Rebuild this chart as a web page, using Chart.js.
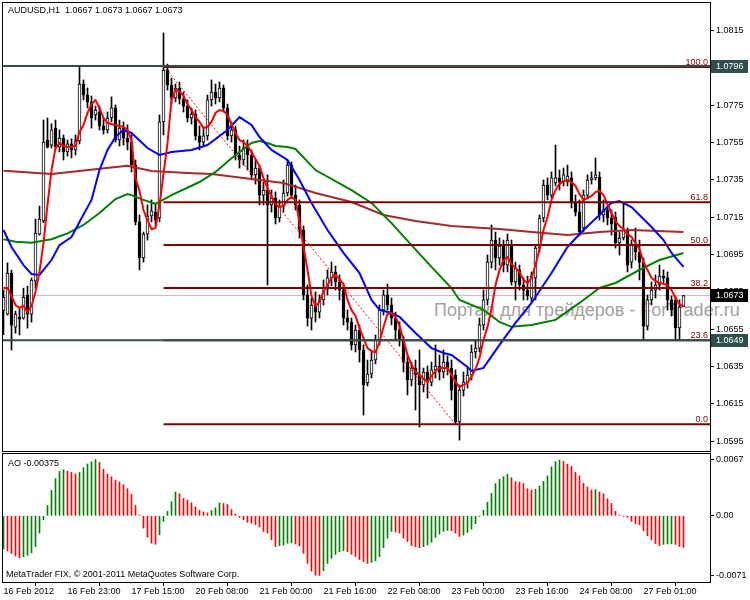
<!DOCTYPE html>
<html>
<head>
<meta charset="utf-8">
<script src="https://cdn.jsdelivr.net/npm/chart.js@4.4.1/dist/chart.umd.min.js"></script>
<style>
  body { margin: 0; background: #fff; width: 750px; height: 600px; overflow: hidden; position: relative;
         font-family: "Liberation Sans", Arial, sans-serif; }
  canvas { position: absolute; left: 0; }
  #main { top: 0; }
  #ao { top: 452px; }
  .txt { position: absolute; font-size: 9px; line-height: 11px; color: #000; white-space: pre; }
  #mark { position: absolute; left: 434px; top: 300px; font-size: 18px; line-height: 20px; color: #a8a0a0; white-space: pre; }
</style>
</head>
<body>
<div id="mark">Портал для трейдеров - ForTrader.ru</div>
<canvas id="main" width="750" height="452"></canvas>
<canvas id="ao" width="750" height="148"></canvas>
<div class="txt" style="left:8px;top:5px">AUDUSD,H1  1.0667 1.0673 1.0667 1.0673</div>
<div class="txt" style="left:8px;top:458px">AO -0.00375</div>
<div class="txt" style="left:6px;top:569px">MetaTrader FIX, © 2001-2011 MetaQuotes Software Corp.</div>
<script>
// H1 bars, index 0 = 16 Feb 2012 07:00
const candleOpen = [1.0665, 1.0663, 1.0685, 1.0656, 1.06614, 1.06608, 1.06732, 1.0663, 1.06807, 1.07059,
  1.07129, 1.07563, 1.07536, 1.07627, 1.07526, 1.07574, 1.07499, 1.07542, 1.0751, 1.07558,
  1.07863, 1.07804, 1.07767, 1.07697, 1.07713, 1.07638, 1.07617, 1.07681, 1.07735, 1.07563,
  1.07627, 1.07574, 1.07552, 1.07429, 1.07124, 1.06931, 1.07059, 1.07156, 1.07177, 1.07145,
  1.0766, 1.07938, 1.07858, 1.07788, 1.07842, 1.07783, 1.07745, 1.07681, 1.07702, 1.07585,
  1.07552, 1.07585, 1.07778, 1.0782, 1.07788, 1.07842, 1.07735, 1.07585, 1.07617, 1.07483,
  1.07456, 1.0752, 1.07483, 1.07376, 1.07413, 1.07268, 1.07295, 1.07215, 1.07252, 1.07145,
  1.07209, 1.07279, 1.07429, 1.07268, 1.07215, 1.07081, 1.06733, 1.06609, 1.06679, 1.06641,
  1.06706, 1.0677, 1.06824, 1.06856, 1.06802, 1.06759, 1.06609, 1.06588, 1.06465, 1.06545,
  1.06438, 1.06261, 1.06309, 1.06384, 1.06491, 1.06652, 1.06733, 1.06679, 1.06609, 1.06545,
  1.06491, 1.06373, 1.06277, 1.06341, 1.06304, 1.0625, 1.0632, 1.06266, 1.06331, 1.06352,
  1.0632, 1.06373, 1.06341, 1.06304, 1.06052, 1.06223, 1.06266, 1.06304, 1.06427, 1.06448,
  1.06572, 1.06706, 1.06909, 1.07027, 1.06931, 1.06995, 1.06893, 1.06995, 1.06802, 1.06867,
  1.06786, 1.06759, 1.06716, 1.06824, 1.06984, 1.07145, 1.07322, 1.07268, 1.07333, 1.0736,
  1.07338, 1.07338, 1.0736, 1.07226, 1.07177, 1.07092, 1.07268, 1.07349, 1.0736, 1.07365,
  1.07161, 1.07188, 1.07145, 1.0715, 1.07011, 1.07038, 1.07081, 1.06909, 1.07001, 1.06963,
  1.06909, 1.06566, 1.06706, 1.06759, 1.06786, 1.06834, 1.06824, 1.06706, 1.06706, 1.06556, 1.0667];
const candleHigh = [1.0676, 1.06905, 1.06866, 1.06646, 1.06657, 1.06769, 1.0678, 1.06823, 1.07139, 1.07209,
  1.0767, 1.07681, 1.0765, 1.0767, 1.07617, 1.0759, 1.07563, 1.07569, 1.0759, 1.0796,
  1.07885, 1.07842, 1.07799, 1.07745, 1.07745, 1.07681, 1.07713, 1.07794, 1.07751, 1.0767,
  1.0766, 1.07644, 1.0759, 1.07456, 1.07161, 1.0707, 1.07215, 1.07242, 1.07226, 1.07697,
  1.08137, 1.0797, 1.07895, 1.07863, 1.07874, 1.0782, 1.07778, 1.07735, 1.07724, 1.07638,
  1.07627, 1.07804, 1.07885, 1.07863, 1.07874, 1.07858, 1.07756, 1.0766, 1.07638, 1.07531,
  1.07563, 1.07563, 1.0751, 1.07456, 1.07429, 1.07338, 1.07376, 1.07295, 1.07285, 1.07242,
  1.07349, 1.07456, 1.07445, 1.07322, 1.07242, 1.07102, 1.06786, 1.06716, 1.06749, 1.06733,
  1.06813, 1.06867, 1.06909, 1.06888, 1.0684, 1.06786, 1.06652, 1.06609, 1.06572, 1.06572,
  1.06465, 1.06384, 1.06427, 1.06518, 1.06679, 1.06759, 1.06791, 1.06716, 1.06641, 1.06588,
  1.06513, 1.06411, 1.06373, 1.06384, 1.06438, 1.06341, 1.06352, 1.06373, 1.06465, 1.06411,
  1.06438, 1.06406, 1.06384, 1.06331, 1.0625, 1.0632, 1.06341, 1.06465, 1.06491, 1.06609,
  1.06759, 1.06947, 1.07108, 1.0707, 1.07038, 1.07027, 1.07059, 1.07027, 1.06909, 1.06893,
  1.06824, 1.06834, 1.06856, 1.07001, 1.07161, 1.07349, 1.0736, 1.07392, 1.07536, 1.07402,
  1.07413, 1.07429, 1.07392, 1.07268, 1.07242, 1.07295, 1.07376, 1.07392, 1.07467, 1.07392,
  1.07242, 1.07215, 1.07188, 1.07177, 1.0707, 1.07226, 1.07092, 1.07027, 1.07092, 1.07027,
  1.06931, 1.06733, 1.06802, 1.0684, 1.06893, 1.06867, 1.06856, 1.06727, 1.06727, 1.06706, 1.0673];
const candleLow = [1.0652, 1.06625, 1.06438, 1.06528, 1.06518, 1.06603, 1.06555, 1.06587, 1.06769, 1.07053,
  1.0712, 1.0752, 1.0752, 1.0751, 1.07499, 1.07456, 1.07477, 1.07467, 1.07483, 1.07542,
  1.07778, 1.07735, 1.07627, 1.0767, 1.07617, 1.07595, 1.07601, 1.0766, 1.07552, 1.07531,
  1.07536, 1.0751, 1.07392, 1.07108, 1.06867, 1.06909, 1.07027, 1.07124, 1.07102, 1.07124,
  1.0759, 1.07831, 1.07756, 1.07767, 1.07756, 1.07713, 1.0766, 1.07649, 1.07563, 1.0751,
  1.07531, 1.07563, 1.07745, 1.07756, 1.07767, 1.07713, 1.07563, 1.07552, 1.07456, 1.07413,
  1.07429, 1.07402, 1.07349, 1.07327, 1.07215, 1.07215, 1.06786, 1.07177, 1.07113, 1.07124,
  1.07177, 1.07263, 1.07252, 1.07188, 1.07038, 1.06706, 1.06566, 1.06545, 1.06588, 1.06609,
  1.06679, 1.06733, 1.06781, 1.06759, 1.06706, 1.06572, 1.06545, 1.06438, 1.06427, 1.06373,
  1.06089, 1.06245, 1.06288, 1.06363, 1.06465, 1.06625, 1.06652, 1.06572, 1.06491, 1.06459,
  1.0632, 1.06197, 1.06245, 1.06116, 1.06025, 1.06213, 1.0618, 1.06245, 1.06288, 1.06277,
  1.06288, 1.06304, 1.0617, 1.06041, 1.05955, 1.06191, 1.06234, 1.06277, 1.06395, 1.06427,
  1.06545, 1.06679, 1.06877, 1.06867, 1.06893, 1.06856, 1.06856, 1.06786, 1.06706, 1.06759,
  1.06706, 1.06706, 1.06695, 1.06706, 1.06963, 1.07124, 1.07242, 1.07252, 1.07317, 1.07295,
  1.07317, 1.07317, 1.07199, 1.07156, 1.07049, 1.0707, 1.07252, 1.07327, 1.07349, 1.07134,
  1.07124, 1.07108, 1.07054, 1.06984, 1.06947, 1.07027, 1.06856, 1.06877, 1.0692, 1.06813,
  1.06491, 1.06545, 1.06679, 1.06716, 1.06759, 1.06791, 1.06652, 1.0662, 1.06491, 1.06491, 1.0667];
const candleClose = [1.0672, 1.0685, 1.06571, 1.0663, 1.06603, 1.06721, 1.0663, 1.06812, 1.07064, 1.07139,
  1.07552, 1.07525, 1.07617, 1.07526, 1.07574, 1.07499, 1.07542, 1.0751, 1.07558, 1.07863,
  1.07804, 1.07767, 1.07681, 1.07724, 1.07638, 1.07617, 1.07681, 1.07735, 1.07563, 1.07627,
  1.07574, 1.07552, 1.07429, 1.07124, 1.06931, 1.07059, 1.07156, 1.07183, 1.07134, 1.0766,
  1.07938, 1.07858, 1.07788, 1.07842, 1.07783, 1.07745, 1.07681, 1.07702, 1.07585, 1.07552,
  1.07585, 1.07778, 1.0782, 1.07788, 1.07842, 1.07735, 1.07585, 1.07617, 1.07483, 1.07456,
  1.0752, 1.07483, 1.07376, 1.07413, 1.07268, 1.07295, 1.07215, 1.07252, 1.07145, 1.07209,
  1.07279, 1.07429, 1.07268, 1.07215, 1.07081, 1.06733, 1.06609, 1.06679, 1.06641, 1.06706,
  1.0677, 1.06824, 1.06856, 1.06802, 1.06759, 1.06609, 1.06588, 1.06465, 1.06545, 1.06438,
  1.0625, 1.06309, 1.06384, 1.06491, 1.06652, 1.06733, 1.06679, 1.06609, 1.06545, 1.06491,
  1.06373, 1.06277, 1.06341, 1.06304, 1.0625, 1.0632, 1.06266, 1.06331, 1.06352, 1.0632,
  1.06373, 1.06341, 1.06223, 1.06052, 1.06223, 1.06266, 1.06304, 1.06427, 1.06448, 1.06572,
  1.06706, 1.06909, 1.07027, 1.06931, 1.06995, 1.06893, 1.07027, 1.06802, 1.06877, 1.06786,
  1.06759, 1.06727, 1.06834, 1.06984, 1.07145, 1.07322, 1.07268, 1.0736, 1.0736, 1.07338,
  1.07376, 1.0737, 1.07226, 1.07177, 1.0707, 1.07268, 1.07349, 1.0736, 1.07376, 1.07161,
  1.07188, 1.07145, 1.07113, 1.07011, 1.07038, 1.07081, 1.06893, 1.07001, 1.06963, 1.06909,
  1.06566, 1.06706, 1.06759, 1.06786, 1.06834, 1.06824, 1.06706, 1.06652, 1.06556, 1.06668, 1.0673];

// fast MA (red), one value per bar
const redMA = [1.0677, 1.0677, 1.06727, 1.06679, 1.06663, 1.06674, 1.06642, 1.06674, 1.06749, 1.06856,
  1.07011, 1.07215, 1.07402, 1.0752, 1.07547, 1.07531, 1.07526, 1.07526, 1.07531, 1.07606,
  1.07643, 1.07708, 1.07756, 1.07777, 1.07735, 1.07681, 1.07654, 1.07649, 1.07643, 1.07638,
  1.07633, 1.07617, 1.07563, 1.07359, 1.0729, 1.07188, 1.07134, 1.07086, 1.07091, 1.07215,
  1.07381, 1.07547, 1.07777, 1.07831, 1.07826, 1.07799, 1.07756, 1.07724, 1.07686, 1.0766,
  1.07627, 1.07633, 1.0766, 1.07708, 1.07724, 1.07719, 1.07697, 1.07649, 1.07601, 1.07563,
  1.07552, 1.07531, 1.07499, 1.07461, 1.07424, 1.0736, 1.07306, 1.07263, 1.0722, 1.07204,
  1.07209, 1.07242, 1.07258, 1.07242, 1.07124, 1.0699, 1.06867, 1.06728, 1.06674, 1.06695,
  1.06749, 1.06786, 1.06824, 1.0684, 1.06818, 1.06792, 1.06706, 1.06652, 1.0662, 1.06556,
  1.06502, 1.06448, 1.06432, 1.06426, 1.0648, 1.06561, 1.06631, 1.06636, 1.06615, 1.06567,
  1.06492, 1.06412, 1.06359, 1.06321, 1.06305, 1.06283, 1.06267, 1.06299, 1.06325, 1.06341,
  1.06341, 1.06341, 1.06305, 1.06267, 1.0624, 1.06251, 1.06262, 1.06294, 1.06336, 1.06395,
  1.06492, 1.06561, 1.06657, 1.06786, 1.06867, 1.0692, 1.06936, 1.06899, 1.06877, 1.06856,
  1.06813, 1.06797, 1.06824, 1.06893, 1.06979, 1.07081, 1.0715, 1.07242, 1.07295, 1.07327,
  1.07343, 1.07349, 1.07338, 1.07317, 1.07274, 1.07242, 1.07252, 1.07263, 1.07284, 1.0729,
  1.07268, 1.0722, 1.07172, 1.07129, 1.07102, 1.07086, 1.07059, 1.07043, 1.07011, 1.06979,
  1.06909, 1.06867, 1.06824, 1.06808, 1.06797, 1.06792, 1.06786, 1.06759, 1.06717, 1.06684, 1.06668];

// slower MAs, read at selected bars
const blueBars = [0, 2, 5, 7, 9, 12, 14, 17, 19, 22, 24, 26, 28, 30, 32, 36, 39, 42, 47, 51, 56, 59, 62, 64, 67, 71, 74, 77, 81, 85, 89, 92, 94, 97, 99, 103, 107, 110, 112, 116, 117, 120, 124, 128, 132, 137, 141, 145, 149, 152, 154, 157, 162, 165, 167, 170];
const blueMA = [1.07081, 1.0699, 1.06893, 1.06845, 1.0684, 1.0692, 1.07, 1.07043, 1.07124, 1.07242, 1.07402, 1.0751, 1.0758, 1.07617, 1.07601, 1.0752, 1.07483, 1.07499, 1.0751, 1.07536, 1.07617, 1.07686, 1.07644, 1.07579, 1.0751, 1.07456, 1.07349, 1.07226, 1.07081, 1.06958, 1.0685, 1.06706, 1.06653, 1.06636, 1.06615, 1.06529, 1.06448, 1.06422, 1.06411, 1.06347, 1.06326, 1.06342, 1.06465, 1.06583, 1.0669, 1.0685, 1.0699, 1.07081, 1.07161, 1.07226, 1.07236, 1.07204, 1.07097, 1.07027, 1.06958, 1.06883];
const greenBars = [0, 3, 7, 12, 16, 20, 24, 28, 31, 32, 35, 38, 42, 49, 53, 57, 62, 64, 66, 68, 71, 73, 78, 87, 92, 97, 102, 107, 112, 114, 120, 124, 127, 132, 138, 144, 149, 153, 159, 164, 170];
const greenMA = [1.07031, 1.07018, 1.07013, 1.07031, 1.07063, 1.07108, 1.07172, 1.07247, 1.07274, 1.07268, 1.07242, 1.0722, 1.07268, 1.07338, 1.07392, 1.07465, 1.07547, 1.07558, 1.07547, 1.07531, 1.07526, 1.07515, 1.07402, 1.07295, 1.07226, 1.07118, 1.07, 1.06883, 1.0677, 1.06706, 1.06653, 1.06588, 1.06562, 1.06572, 1.06599, 1.0669, 1.0677, 1.06797, 1.06867, 1.0692, 1.06958];
const brownBars = [0, 12, 31, 37, 46, 52, 62, 70, 78, 87, 95, 103, 112, 124, 132, 141, 149, 157, 170];
const brownMA = [1.07399, 1.07381, 1.07425, 1.07397, 1.07386, 1.07381, 1.07354, 1.07333, 1.07279, 1.07231, 1.07161, 1.07129, 1.07102, 1.07086, 1.0707, 1.07054, 1.0707, 1.07081, 1.0707];

// Awesome Oscillator
const aoValues = [-0.00395, -0.00419, -0.00447, -0.00479, -0.00499, -0.00487, -0.00471, -0.00439, -0.00366, -0.00206,
  -0.00046, 0.00123, 0.00303, 0.00443, 0.00528, 0.00548, 0.00532, 0.00516, 0.00499, 0.00516,
  0.00574, 0.00616, 0.00644, 0.0067, 0.00636, 0.00556, 0.00496, 0.00464, 0.00427, 0.00403,
  0.00371, 0.00323, 0.00255, 0.00123, 0.0001, -0.00146, -0.00254, -0.00326, -0.00338, -0.00226,
  -0.00066, 0.00055, 0.00167, 0.00283, 0.00263, 0.00207, 0.00187, 0.00155, 0.00107, 0.00067,
  0.00047, 0.00034, 0.00063, 0.00095, 0.00155, 0.00147, 0.00135, 0.00075, 0.00022, -0.00018,
  -0.00046, -0.00078, -0.00086, -0.00106, -0.00134, -0.00186, -0.00206, -0.00286, -0.00367, -0.00355,
  -0.00347, -0.00327, -0.00319, -0.00335, -0.00359, -0.00447, -0.00567, -0.00659, -0.00707, -0.0071,
  -0.00655, -0.00567, -0.00507, -0.00459, -0.00427, -0.00415, -0.00427, -0.00459, -0.00487, -0.00519,
  -0.00547, -0.00567, -0.00555, -0.00536, -0.00487, -0.00379, -0.00266, -0.00186, -0.00194, -0.00206,
  -0.00266, -0.00306, -0.00355, -0.00367, -0.00379, -0.00367, -0.00347, -0.00315, -0.00258, -0.00218,
  -0.00186, -0.00174, -0.00178, -0.00206, -0.00246, -0.0023, -0.00198, -0.00158, -0.00094, -0.00002,
  0.00066, 0.00162, 0.00267, 0.00383, 0.00435, 0.00468, 0.00496, 0.00455, 0.00407, 0.00403,
  0.00383, 0.00323, 0.00307, 0.00315, 0.00355, 0.00411, 0.00476, 0.00584, 0.00644, 0.00664,
  0.00648, 0.00616, 0.00588, 0.00516, 0.00476, 0.00387, 0.00343, 0.00307, 0.00311, 0.00283,
  0.00263, 0.00203, 0.00147, 0.00055, 0.0001, -0.00003, -0.00018, -0.00066, -0.00094, -0.00106,
  -0.00178, -0.00238, -0.00286, -0.0033, -0.00355, -0.0034, -0.00335, -0.00333, -0.0034, -0.00365, -0.00375];

// Fibonacci retracement, drawn from bar 40 to bar 113
const fibStart = [40, 1.0796];
const fibEnd = [113, 1.0604];
const fibLevels = ['100.0', '61.8', '50.0', '38.2', '23.6', '0.0'];
const fibPrices = [1.07955, 1.0723, 1.0700, 1.0677, 1.0649, 1.0604];

const hLinePrices = [1.0796, 1.0649];
const bidPrice = 1.0673;
const tagPrices = [1.0796, 1.0649, 1.0673];
const tagColors = ['#2F4F4F', '#2F4F4F', '#000000'];

const priceTicks = [1.0815, 1.0795, 1.0775, 1.0755, 1.0735, 1.0715, 1.0695, 1.0675, 1.0655, 1.0635, 1.0615, 1.0595];
const aoTicks = [0.0067, 0, -0.0071];
const aoTickLabels = ['0.0067', '0.00', '-0.0071'];
const timeTickBars = [0, 16, 32, 48, 64, 80, 96, 112, 128, 144, 160];
const timeTickLabels = ['16 Feb 2012', '16 Feb 23:00', '17 Feb 15:00', '20 Feb 08:00', '21 Feb 00:00', '21 Feb 16:00',
  '22 Feb 08:00', '23 Feb 00:00', '23 Feb 16:00', '24 Feb 08:00', '27 Feb 01:00'];

const FONT = '"Liberation Sans", Arial, sans-serif';
const X_MIN = -0.375, X_MAX = 176.625;

const frame = {
  id: 'frame',
  afterDraw(chart) {
    const { ctx, chartArea: a } = chart;
    ctx.save();
    ctx.strokeStyle = '#000';
    ctx.lineWidth = 1;
    ctx.strokeRect(a.left + 0.5, a.top + 0.5, a.right - a.left, a.bottom - a.top);
    ctx.restore();
  }
};

const labels = {
  id: 'labels',
  afterDraw(chart) {
    const { ctx, chartArea: a, scales: { y } } = chart;
    ctx.save();
    ctx.font = '9px ' + FONT;
    ctx.fillStyle = '#800000';
    ctx.textAlign = 'right';
    ctx.textBaseline = 'alphabetic';
    fibLevels.forEach((t, i) => ctx.fillText(t, a.right - 2, y.getPixelForValue(fibPrices[i]) - 2));
    ctx.textAlign = 'left';
    ctx.textBaseline = 'middle';
    tagPrices.forEach((p, i) => {
      const py = Math.round(y.getPixelForValue(p));
      ctx.fillStyle = tagColors[i];
      ctx.fillRect(a.right + 1, py - 6, 37, 13);
      ctx.fillStyle = '#fff';
      ctx.fillText(p.toFixed(4), a.right + 6, py + 0.5);
    });
    ctx.restore();
  }
};

const line = (data, color, width, order, dash) => ({
  type: 'line', data, borderColor: color, borderWidth: width, pointRadius: 0, tension: 0,
  order, borderDash: dash || [], fill: false
});

const wickData = candleHigh.map((h, i) => ({ x: i, y: [candleLow[i], h] }));
const bodyData = candleOpen.map((o, i) => ({ x: i, y: [o, candleClose[i]] }));
const bodyColors = candleOpen.map((o, i) => candleClose[i] >= o ? '#ffffff' : '#000000');

const datasets = [
  { type: 'bar', data: wickData, backgroundColor: '#000', barThickness: 1, grouped: false, order: 30 },
  { type: 'bar', data: bodyData, backgroundColor: bodyColors, borderColor: '#000', borderWidth: 1,
    borderSkipped: false, barThickness: 3, grouped: false, minBarLength: 1, order: 29 },
  line(brownBars.map((b, i) => ({ x: b, y: brownMA[i] })), '#A52A2A', 2, 14),
  line(greenBars.map((b, i) => ({ x: b, y: greenMA[i] })), '#008000', 2, 13),
  line(blueBars.map((b, i) => ({ x: b, y: blueMA[i] })), '#0000FF', 2, 12),
  line(redMA.map((v, i) => ({ x: i, y: v })), '#FF0000', 2, 11),
  line([{ x: X_MIN, y: bidPrice }, { x: X_MAX, y: bidPrice }], '#C0C0C0', 1, 40),
  line([{ x: fibStart[0], y: fibStart[1] }, { x: fibEnd[0], y: fibEnd[1] }], '#FF0000', 1, 5, [2, 2])
];
fibPrices.forEach(p => datasets.push(line([{ x: fibStart[0], y: p }, { x: X_MAX, y: p }], '#800000', 2, 4)));
hLinePrices.forEach(p => datasets.push(line([{ x: X_MIN, y: p }, { x: X_MAX, y: p }], '#2F4F4F', 2, 3)));

new Chart(document.getElementById('main'), {
  type: 'bar',
  data: { datasets },
  options: {
    responsive: false,
    animation: false,
    events: [],
    layout: { padding: { left: 2, top: 2, right: 0, bottom: 1 } },
    plugins: { legend: { display: false }, tooltip: { enabled: false } },
    scales: {
      x: { type: 'linear', min: X_MIN, max: X_MAX, offset: false, display: false },
      y: {
        position: 'right', min: 1.058965, max: 1.083027,
        afterBuildTicks: s => { s.ticks = priceTicks.map(v => ({ value: v })); },
        afterFit: s => { s.width = 40; s.paddingTop = 0; s.paddingBottom = 0; },
        ticks: { color: '#000', padding: 2, font: { family: FONT, size: 9 }, callback: v => v.toFixed(4) },
        grid: { drawOnChartArea: false, drawTicks: true, tickLength: 4, color: '#000' },
        border: { display: false }
      }
    }
  },
  plugins: [frame, labels]
});

const aoColors = aoValues.map((v, i) => (i > 0 && v < aoValues[i - 1]) ? '#FF0000' : '#008000');

new Chart(document.getElementById('ao'), {
  type: 'bar',
  data: {
    datasets: [{ data: aoValues.map((v, i) => ({ x: i, y: v })), backgroundColor: aoColors, barThickness: 1, grouped: false }]
  },
  options: {
    responsive: false,
    animation: false,
    events: [],
    layout: { padding: { left: 2, top: 1, right: 0, bottom: 0 } },
    plugins: { legend: { display: false }, tooltip: { enabled: false } },
    scales: {
      x: {
        type: 'linear', min: X_MIN, max: X_MAX, offset: false, position: 'bottom',
        afterBuildTicks: s => { s.ticks = timeTickBars.map(v => ({ value: v })); },
        afterFit: s => { s.height = 18; s.paddingLeft = 0; s.paddingRight = 0; },
        ticks: { color: '#000', padding: 0, align: 'start', autoSkip: false, maxRotation: 0,
                 font: { family: FONT, size: 9 }, callback: (v, i) => timeTickLabels[i] },
        grid: { drawOnChartArea: false, drawTicks: true, tickLength: 4, color: '#000' },
        border: { display: false }
      },
      y: {
        position: 'right', min: -0.00788, max: 0.00748,
        afterBuildTicks: s => { s.ticks = aoTicks.map(v => ({ value: v })); },
        afterFit: s => { s.width = 40; s.paddingTop = 0; s.paddingBottom = 0; },
        ticks: { color: '#000', padding: 2, font: { family: FONT, size: 9 }, callback: (v, i) => aoTickLabels[i] },
        grid: { drawOnChartArea: false, drawTicks: true, tickLength: 4, color: '#000' },
        border: { display: false }
      }
    }
  },
  plugins: [frame]
});
</script>
</body>
</html>
